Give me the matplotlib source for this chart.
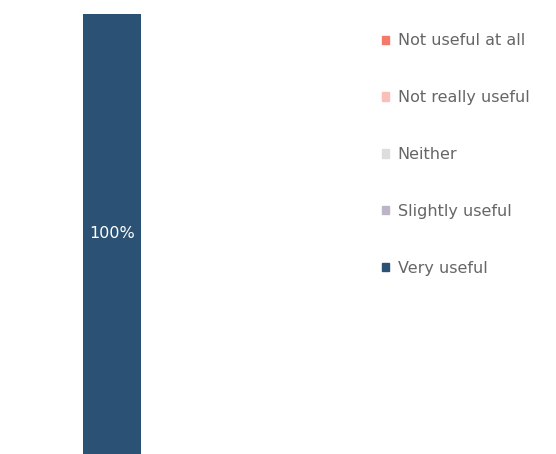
import matplotlib.pyplot as plt
from matplotlib.patches import Patch

categories = ["Not useful at all", "Not really useful", "Neither", "Slightly useful", "Very useful"]
shares = [0, 0, 0, 0, 100]
colors = ["#F4796B", "#F9BFB8", "#DDDDDD", "#BDB4C7", "#2B5174"]

plt.rcParams["font.family"] = ["DejaVu Sans"]

fig = plt.figure(figsize=(5.56, 4.54), dpi=100)
ax = fig.add_axes([75.75 / 556, 0, 72.5 / 556, 440 / 454])

# stacked single bar, zero-share segments still get a legend entry
bottom = 0
for cat, val, col in zip(categories, shares, colors):
    ax.bar(0, val, width=0.8, bottom=bottom, color=col, label=cat)
    if val > 0:
        ax.text(0, bottom + val / 2, f"{val}%", ha="center", va="center",
                color="white", fontsize=11.5)
    bottom += val

ax.set_xlim(-0.5, 0.5)
ax.set_ylim(0, 100)
ax.axis("off")

handles = [Patch(color=c, label=l) for l, c in zip(categories, colors)]
fig.legend(handles=handles, loc="upper left", bbox_to_anchor=(368 / 556, 1 - 19 / 454),
           frameon=False, fontsize=11.5, labelcolor="#666666",
           handlelength=0.42, handleheight=0.42, handletextpad=0.55, labelspacing=2.62)

fig.savefig("out.png", dpi=100)
